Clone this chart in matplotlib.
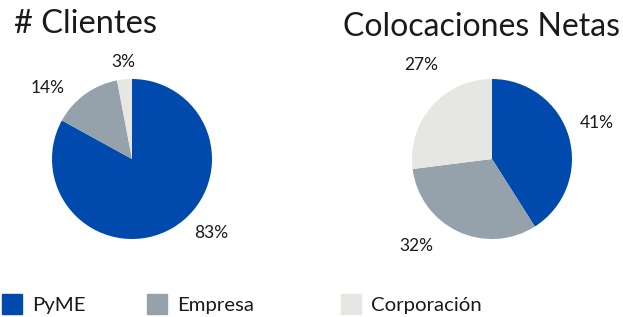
import numpy as np
import matplotlib.pyplot as plt

plt.rcParams['font.family'] = ['Lato', 'DejaVu Sans']

segmentos = ['PyME', 'Empresa', 'Corporación']
colores = ['#004AAD', '#95A1AB', '#E6E6E2']

clientes = [83, 14, 3]
colocaciones = [41, 32, 27]

# label placement (angle in degrees, distance in radius units), per slice
pos_clientes = [(-43, 1.36), (140, 1.38), (95, 1.22)]
pos_colocaciones = [(19, 1.39), (-131, 1.44), (127, 1.47)]

W, H = 623, 317
fig = plt.figure(figsize=(W / 100, H / 100), dpi=100)
txt_color = '#1a1a1a'


def pie_axes(cx, cy, r):
    # cx, cy, r in pixels (image coords, y down)
    return fig.add_axes([(cx - r) / W, (H - cy - r) / H, 2 * r / W, 2 * r / H])


def draw(ax, vals, pos):
    ax.pie(vals, colors=colores, startangle=90, counterclock=False,
           radius=1, wedgeprops=dict(linewidth=0))
    for v, (ang, d) in zip(vals, pos):
        a = np.deg2rad(ang)
        ax.text(d * np.cos(a), d * np.sin(a), f'{v}%', ha='center', va='center',
                fontsize=12.5, color=txt_color)
    ax.set_xlim(-1, 1)
    ax.set_ylim(-1, 1)
    ax.set_aspect('equal')
    ax.axis('off')


ax1 = pie_axes(132, 159, 80)
draw(ax1, clientes, pos_clientes)
ax2 = pie_axes(492, 159, 80)
draw(ax2, colocaciones, pos_colocaciones)

fig.text(14 / W, 1 - 24 / H, '# Clientes', fontsize=23.5, color=txt_color,
         ha='left', va='center')
fig.text(620 / W, 1 - 27 / H, 'Colocaciones Netas', fontsize=23, color=txt_color,
         ha='right', va='center')

# legend
leg_x = [2, 147, 341]
for x, c, name in zip(leg_x, colores, segmentos):
    fig.patches.append(plt.Rectangle((x / W, 1 - 314 / H), 20 / W, 20 / H,
                                     transform=fig.transFigure, color=c))
    fig.text((x + 30) / W, 1 - 305 / H, name, fontsize=14.7, color=txt_color,
             ha='left', va='center')

fig.savefig('out.png', dpi=100)
